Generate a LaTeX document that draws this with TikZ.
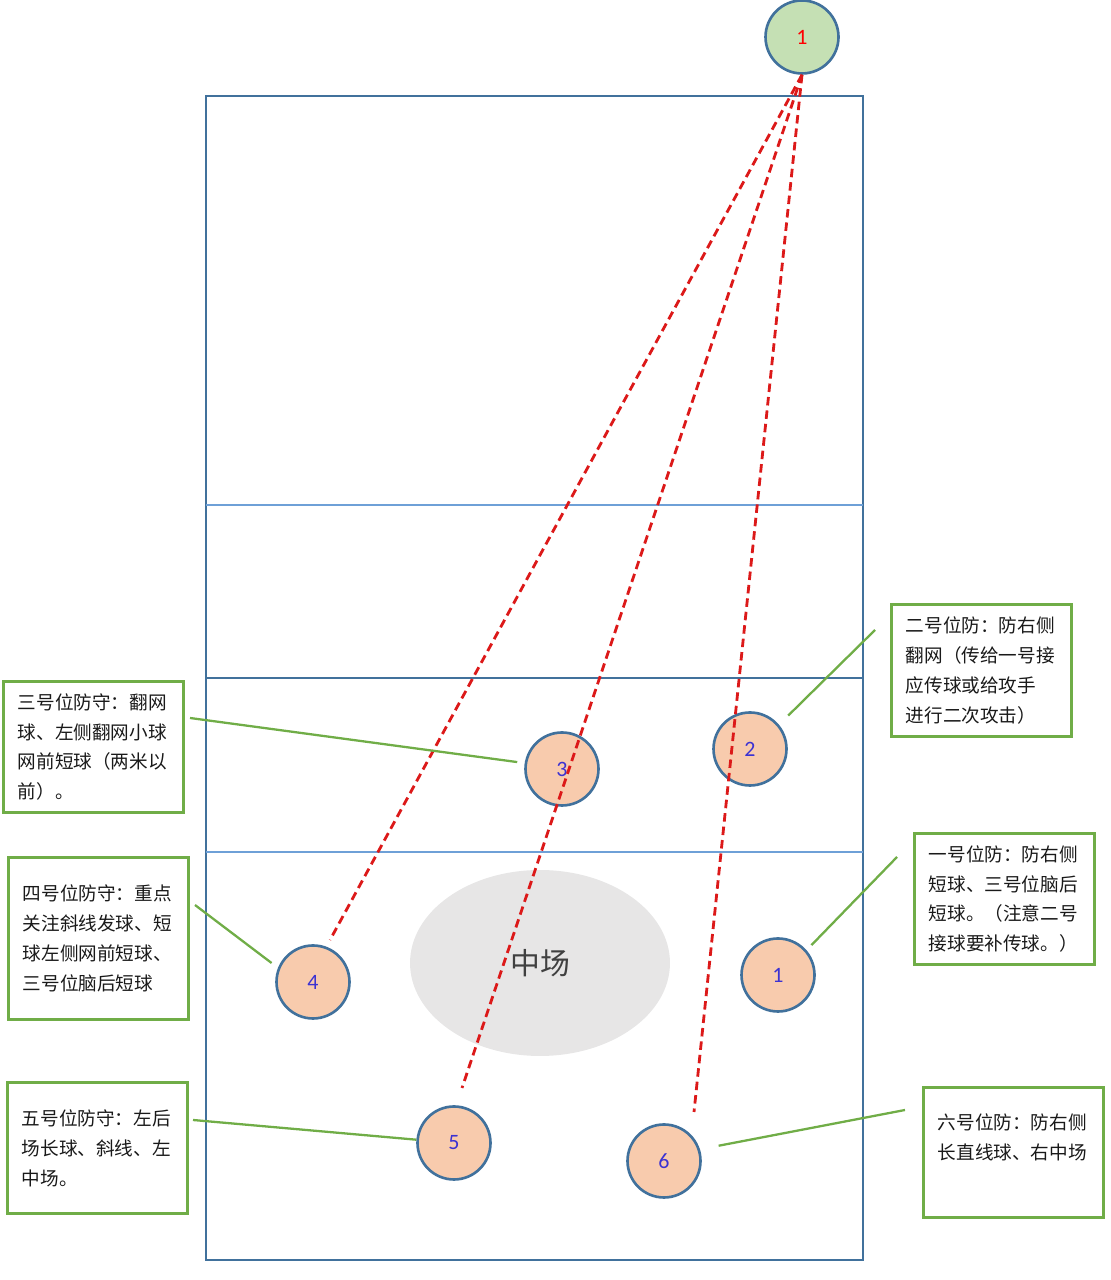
\documentclass[tikz,border=0pt]{standalone}
\usepackage{fontspec}
\newfontfamily\cjk{Noto Sans CJK SC}
\newfontfamily\numfont{Carlito}
\usetikzlibrary{shapes.geometric}
\definecolor{courtblue}{RGB}{65,113,156}
\definecolor{lineblue}{RGB}{110,160,215}
\definecolor{peach}{RGB}{248,203,173}
\definecolor{servegreen}{RGB}{197,224,180}
\definecolor{notegreen}{RGB}{112,173,71}
\definecolor{dashred}{RGB}{220,25,25}
\definecolor{numblue}{RGB}{60,50,210}
\definecolor{midgray}{RGB}{231,230,230}

\begin{document}
\begin{tikzpicture}[x=0.02cm, y=0.02cm,
  player/.style={circle, draw=courtblue, line width=1.5pt, fill=peach, minimum size=1.46cm, inner sep=0pt, font=\numfont\fontsize{12.5pt}{14pt}\selectfont, text=numblue},
  note/.style={draw=notegreen, line width=1.5pt, anchor=north west, minimum width=3.6cm, minimum height=2.63cm, text width=3.02cm, inner xsep=0.29cm, align=left, font=\cjk\fontsize{10.6pt}{17pt}\selectfont, text=black!90},
  link/.style={notegreen, line width=1.3pt},
  serve/.style={dashred, line width=1.6pt, dash pattern=on 0.17cm off 0.1cm}]
\useasboundingbox (0,0) rectangle (1110,1280);
% court
\draw[courtblue, line width=1.3pt] (206,20) rectangle (863,1184);
\draw[lineblue, line width=1.1pt] (206,775) -- (863,775);
\draw[courtblue, line width=1.3pt] (206,602) -- (863,602);
\draw[lineblue, line width=1.1pt] (206,428) -- (863,428);
% midfield
\node[ellipse, fill=midgray, minimum width=5.2cm, minimum height=3.72cm, font=\cjk\fontsize{17pt}{19pt}\selectfont, text=black!75] (mid) at (540,317) {中场};
% server and players
\node[circle, draw=courtblue, line width=1.5pt, fill=servegreen, minimum size=1.46cm, inner sep=0pt, font=\numfont\fontsize{12.5pt}{14pt}\selectfont, text=red] (srv) at (802,1243) {1};
\foreach \n/\x/\y in {1/778/305, 2/750/531, 3/562/511, 4/313/298, 5/454/137, 6/664/119}{
  \node[player] (p\n) at (\x,\y) {\n};
}
% serve lines
\coordinate (e4) at (330,340);
\coordinate (e5) at (462,192);
\coordinate (e6) at (694,168);
\foreach \n in {4,5,6}{
  \draw[serve] (srv.south) -- (e\n);
}
% notes
\node[note] (box3) at (2,600) {三号位防守：翻网\\球、左侧翻网小球\\网前短球（两米以\\前）。};
\node[note, minimum height=3.25cm] (box4) at (7,424) {四号位防守：重点\\关注斜线发球、短\\球左侧网前短球、\\三号位脑后短球};
\node[note, minimum height=2.65cm] (box2) at (890,677) {二号位防：防右侧\\翻网（传给一号接\\应传球或给攻手\\进行二次攻击）};
\node[note] (box1) at (913,448) {一号位防：防右侧\\短球、三号位脑后\\短球。（注意二号\\接球要补传球。）};
\node[note] (box5) at (6,199) {五号位防守：左后\\场长球、斜线、左\\中场。};
\node[note, minimum height=2.61cm, text depth=35.5pt] (box6) at (922,194) {六号位防：防右侧\\长直线球、右中场};
% links
\coordinate (c3) at (190,562);
\coordinate (c4) at (195,375);
\coordinate (c2) at (875,650);
\coordinate (c1) at (897,423);
\coordinate (c5) at (193,160);
\coordinate (c6) at (905,170);
\draw[link, shorten >=0.15cm] (c3) -- (p3.171);
\draw[link, shorten >=0.16cm] (c4) -- (p4.158);
\draw[link, shorten >=0.26cm] (c2) -- (p2.40);
\draw[link, shorten >=0.14cm] (c1) -- (p1.41);
\draw[link] (c5) -- (p5.175);
\draw[link, shorten >=0.38cm] (c6) -- (p6.18);
\end{tikzpicture}
\end{document}
